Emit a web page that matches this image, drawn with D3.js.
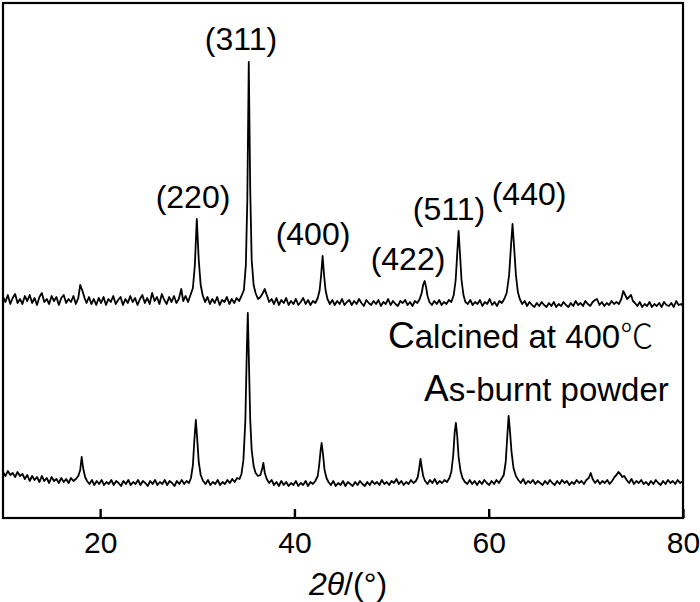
<!DOCTYPE html>
<html>
<head>
<meta charset="utf-8">
<script src="https://cdn.jsdelivr.net/npm/d3@7"></script>
<style>
  body { margin: 0; background: #fff; }
  text { font-family: "Liberation Sans", Arial, sans-serif; fill: #000; }
</style>
</head>
<body>
<svg id="chart" width="700" height="602"></svg>
<script>
// 2theta (deg) / intensity (a.u.)
const calcined = [
  [10.0, 6], [10.25, -4], [10.5, 10], [10.75, -8], [11.0, 4], [11.25, 12], [11.5, -6], [11.75, 2],
  [12.0, -8], [12.25, 8], [12.5, -2], [12.75, 10], [13.0, -6], [13.25, 4], [13.5, -10], [13.75, 6],
  [14.0, 14], [14.25, -4], [14.5, 2], [14.75, -8], [15.0, 8], [15.25, -2], [15.5, 6], [15.75, -10],
  [16.0, 4], [16.25, 10], [16.5, -6], [16.75, 2], [17.0, -4], [17.25, 8], [17.5, -8], [17.75, 4],
  [17.95, 30], [18.15, 20], [18.4, 4], [18.6, -6], [18.85, 6], [19.1, -8], [19.35, 2], [19.6, -10],
  [19.85, 4], [20.1, -6], [20.35, 6], [20.6, -10], [20.85, 2], [21.1, -4], [21.35, 8], [21.6, -8],
  [21.85, 0], [22.1, 6], [22.35, -10], [22.6, 2], [22.85, -6], [23.1, 8], [23.35, -4], [23.6, 4],
  [23.85, -10], [24.1, 2], [24.35, 10], [24.6, -6], [24.85, 4], [25.1, -8], [25.35, 14], [25.6, -2],
  [25.85, 6], [26.1, -8], [26.35, 12], [26.6, 0], [26.85, -8], [27.1, 6], [27.35, -4], [27.6, 8],
  [27.85, -6], [28.1, 2], [28.35, 22], [28.55, -2], [28.8, 8], [29.05, -4], [29.3, 10], [29.55, 24],
  [29.75, 70], [29.95, 162], [30.15, 80], [30.35, 30], [30.55, 10], [30.8, -4], [31.05, 6], [31.3, -8],
  [31.55, 2], [31.8, -6], [32.05, 6], [32.3, -10], [32.55, 0], [32.8, -4], [33.05, 6], [33.3, -8],
  [33.55, 2], [33.8, -6], [34.05, 4], [34.3, -2], [34.55, 8], [34.8, 20], [35.0, 70], [35.15, 200],
  [35.3, 476], [35.45, 220], [35.6, 80], [35.8, 30], [36.0, 14], [36.25, 2], [36.5, 6], [36.75, 14],
  [36.95, 22], [37.15, 10], [37.4, -4], [37.65, 2], [37.9, -8], [38.15, 4], [38.4, -10], [38.65, 0],
  [38.9, -6], [39.15, 4], [39.4, -10], [39.65, -2], [39.9, -8], [40.15, 2], [40.4, -10], [40.65, -4],
  [40.9, 4], [41.15, -8], [41.4, 0], [41.65, -10], [41.9, -2], [42.15, -6], [42.4, 4], [42.6, 20],
  [42.75, 50], [42.9, 88], [43.05, 50], [43.2, 20], [43.4, 2], [43.65, -8], [43.9, 0], [44.15, -10],
  [44.4, -2], [44.65, -8], [44.9, 2], [45.15, -10], [45.4, -4], [45.65, 0], [45.9, -10], [46.15, -2],
  [46.4, -8], [46.65, 2], [46.9, -6], [47.15, -12], [47.4, 0], [47.65, -6], [47.9, -10], [48.15, -2],
  [48.4, -8], [48.65, 0], [48.9, -12], [49.15, -4], [49.4, -8], [49.65, 2], [49.9, -10], [50.15, -2],
  [50.4, -8], [50.65, -12], [50.9, -2], [51.15, -6], [51.4, 0], [51.65, -10], [51.9, -4], [52.15, -12],
  [52.4, -2], [52.65, -6], [52.9, 2], [53.1, 14], [53.25, 30], [53.4, 38], [53.55, 26], [53.7, 8],
  [53.9, -4], [54.15, -10], [54.4, -2], [54.65, -8], [54.9, 0], [55.15, -10], [55.4, -4], [55.65, -8],
  [55.9, 0], [56.15, -4], [56.4, 10], [56.6, 40], [56.75, 90], [56.9, 138], [57.05, 90], [57.2, 40],
  [57.4, 10], [57.6, -4], [57.85, -8], [58.1, 0], [58.35, -10], [58.6, -4], [58.85, -8], [59.1, 0],
  [59.35, -12], [59.6, -4], [59.85, -8], [60.1, 2], [60.35, -10], [60.6, -4], [60.85, -12], [61.1, -2],
  [61.35, -6], [61.6, 2], [61.85, 14], [62.1, 50], [62.3, 110], [62.45, 152], [62.6, 110], [62.8, 50],
  [63.0, 16], [63.2, 2], [63.45, -8], [63.7, -2], [63.95, -12], [64.2, -4], [64.45, -10], [64.7, -14],
  [64.95, -6], [65.2, -12], [65.45, -4], [65.7, -10], [65.95, -14], [66.2, -6], [66.45, -12], [66.7, -4],
  [66.95, -14], [67.2, -8], [67.45, -12], [67.7, -4], [67.95, -10], [68.2, -14], [68.45, -6], [68.7, -12],
  [68.95, -2], [69.2, -10], [69.45, -6], [69.7, -12], [69.95, -2], [70.2, -8], [70.45, -12], [70.7, -4],
  [70.95, 0], [71.15, 2], [71.4, -10], [71.65, -4], [71.9, -12], [72.15, -6], [72.4, -10], [72.65, -2],
  [72.9, -8], [73.15, -4], [73.4, -8], [73.65, 2], [73.85, 18], [74.05, 10], [74.25, 2], [74.45, 6],
  [74.65, 10], [74.85, -2], [75.05, -6], [75.3, -12], [75.55, -4], [75.8, -14], [76.05, -8], [76.3, -12],
  [76.55, -4], [76.8, -14], [77.05, -8], [77.3, -12], [77.55, -6], [77.8, -14], [78.05, -4], [78.3, -10],
  [78.55, -12], [78.8, -6], [79.05, -14], [79.3, -2], [79.55, -10], [79.8, -8], [80.0, -12]
];

const asBurnt = [
  [10.0, 16], [10.25, 8], [10.5, 18], [10.75, 10], [11.0, 14], [11.25, 6], [11.5, 16], [11.75, 8],
  [12.0, 12], [12.25, 2], [12.5, 10], [12.75, -2], [13.0, 8], [13.25, 0], [13.5, 6], [13.75, -4],
  [14.0, 8], [14.25, -2], [14.5, 4], [14.75, -6], [15.0, 6], [15.25, -2], [15.5, 2], [15.75, -6],
  [16.0, 4], [16.25, -4], [16.5, 2], [16.75, -6], [17.0, 4], [17.25, -2], [17.5, 2], [17.75, 8],
  [17.95, 20], [18.1, 46], [18.25, 24], [18.45, 6], [18.65, -2], [18.9, -8], [19.15, 0], [19.4, -10],
  [19.65, -2], [19.9, -8], [20.15, 0], [20.4, -10], [20.65, -4], [20.9, -8], [21.15, 0], [21.4, -10],
  [21.65, -2], [21.9, -6], [22.15, -12], [22.4, -2], [22.65, -8], [22.9, 0], [23.15, -10], [23.4, -4],
  [23.65, -8], [23.9, 0], [24.15, -10], [24.4, -2], [24.65, -6], [24.9, -12], [25.15, -2], [25.4, -8],
  [25.65, 0], [25.9, -10], [26.15, -4], [26.4, -8], [26.65, 0], [26.9, -10], [27.15, -2], [27.4, -6],
  [27.65, -12], [27.9, -2], [28.15, -8], [28.4, 0], [28.65, -8], [28.9, -2], [29.15, -6], [29.35, 4],
  [29.55, 30], [29.7, 80], [29.85, 120], [30.0, 80], [30.15, 36], [30.35, 10], [30.6, -2], [30.85, -8],
  [31.1, 0], [31.35, -10], [31.6, -4], [31.85, -8], [32.1, 0], [32.35, -10], [32.6, -4], [32.85, -8],
  [33.1, 0], [33.35, -6], [33.6, 2], [33.85, -4], [34.1, 4], [34.35, 2], [34.55, 12], [34.75, 40],
  [34.95, 120], [35.1, 260], [35.2, 334], [35.3, 250], [35.45, 120], [35.6, 60], [35.8, 28], [36.0, 14],
  [36.25, 8], [36.5, 10], [36.7, 24], [36.8, 34], [36.95, 14], [37.15, 2], [37.4, -6], [37.65, 0],
  [37.9, -10], [38.15, -4], [38.4, -12], [38.65, -2], [38.9, -10], [39.15, -4], [39.4, -12], [39.65, -6],
  [39.9, -10], [40.15, -2], [40.4, -12], [40.65, -6], [40.9, -10], [41.15, -2], [41.4, -12], [41.65, -4],
  [41.9, -8], [42.15, -2], [42.4, 8], [42.55, 30], [42.7, 60], [42.8, 74], [42.95, 50], [43.1, 20],
  [43.3, 4], [43.5, -4], [43.75, -10], [44.0, -2], [44.25, -12], [44.5, -6], [44.75, -10], [45.0, -2],
  [45.25, -12], [45.5, -4], [45.75, -8], [46.0, -12], [46.25, -4], [46.5, -10], [46.75, -2], [47.0, -8],
  [47.25, -12], [47.5, -4], [47.75, -10], [48.0, -2], [48.25, -8], [48.5, -4], [48.75, -10], [49.0, 0],
  [49.25, -8], [49.5, -4], [49.75, -10], [50.0, -2], [50.25, -6], [50.5, 2], [50.75, -8], [51.0, -2],
  [51.25, -10], [51.5, -4], [51.75, -8], [52.0, 0], [52.25, -6], [52.5, -2], [52.7, 6], [52.85, 24],
  [52.98, 42], [53.1, 26], [53.25, 8], [53.45, -2], [53.7, -8], [53.95, 0], [54.2, -6], [54.45, 2],
  [54.7, -8], [54.95, -2], [55.2, -6], [55.45, 0], [55.7, -4], [55.95, 4], [56.15, 16], [56.35, 50],
  [56.5, 96], [56.62, 114], [56.75, 90], [56.9, 46], [57.1, 18], [57.3, 4], [57.55, -4], [57.8, -8],
  [58.05, 0], [58.3, -8], [58.55, -2], [58.8, -10], [59.05, -2], [59.3, -8], [59.55, 0], [59.8, -6],
  [60.05, -10], [60.3, -2], [60.55, -8], [60.8, 0], [61.05, -6], [61.3, 2], [61.55, 10], [61.75, 36],
  [61.92, 90], [62.05, 128], [62.18, 100], [62.35, 56], [62.55, 24], [62.8, 8], [63.05, 0], [63.3, -6],
  [63.55, 2], [63.8, -8], [64.05, -2], [64.3, -6], [64.55, 0], [64.8, -8], [65.05, -2], [65.3, -6],
  [65.55, -10], [65.8, -2], [66.05, -8], [66.3, 0], [66.55, -6], [66.8, -10], [67.05, -2], [67.3, -8],
  [67.55, 0], [67.8, -6], [68.05, -2], [68.3, -10], [68.55, -4], [68.8, -8], [69.05, 0], [69.3, -6],
  [69.55, -2], [69.8, -8], [70.05, 0], [70.3, 4], [70.5, 14], [70.7, 2], [70.95, -6], [71.2, 0],
  [71.45, -8], [71.7, -2], [71.95, -6], [72.2, 0], [72.45, -8], [72.7, -2], [72.95, 6], [73.15, 10],
  [73.35, 16], [73.55, 12], [73.75, 6], [73.95, 8], [74.2, 0], [74.45, -6], [74.7, 2], [74.95, -8],
  [75.2, -2], [75.45, -6], [75.7, 0], [75.95, -8], [76.2, -4], [76.45, -10], [76.7, -2], [76.95, -8],
  [77.2, 0], [77.45, -6], [77.7, -10], [77.95, -2], [78.2, -8], [78.45, 0], [78.7, -6], [78.95, -2],
  [79.2, -8], [79.45, 0], [79.7, -6], [80.0, -2]
];

// vertical shift of each pattern (a.u.)
const traceOffsets = [436, 76];
const sampleNames = ["Calcined at 400℃", "As-burnt powder"];
const sampleTheta = [49.63, 53.34];
const sampleHeight = [340, 234];

const hklLabels = ["(220)", "(311)", "(400)", "(422)", "(511)", "(440)"];
const hklTheta = [29.56, 34.5, 41.91, 51.69, 55.91, 64.15];
const hklHeight = [620, 936, 546, 496, 596, 626];

const xTicks = [20, 40, 60, 80];

let svg = d3.select("#chart");
let plotL = 3, plotR = 683, plotT = 3, plotB = 518;

let x = d3.scaleLinear().domain([10, 80]).range([plotL, plotR]);
let y = d3.scaleLinear().domain([0, 1030]).range([plotB, plotT]);

svg.append("defs")
  .append("clipPath")
  .attr("id", "plotclip")
  .append("rect")
  .attr("x", plotL)
  .attr("y", plotT)
  .attr("width", plotR - plotL)
  .attr("height", plotB - plotT);

function addTrace(data, offset) {
  let line = d3.line()
    .x(d => x(d[0]))
    .y(d => y(d[1] + offset));

  svg.append("path")
    .datum(data)
    .attr("clip-path", "url(#plotclip)")
    .attr("fill", "none")
    .attr("stroke", "#000")
    .attr("stroke-width", 1.8)
    .attr("stroke-linejoin", "round")
    .attr("d", line);
}

addTrace(calcined, traceOffsets[0]);
addTrace(asBurnt, traceOffsets[1]);

// frame
svg.append("rect")
  .attr("x", plotL)
  .attr("y", plotT)
  .attr("width", plotR - plotL)
  .attr("height", plotB - plotT)
  .attr("fill", "none")
  .attr("stroke", "#000")
  .attr("stroke-width", 2.2);

// bottom axis, ticks pointing inward
let xAxis = d3.axisBottom(x)
  .tickValues(xTicks)
  .tickFormat(d3.format("d"))
  .tickSizeInner(-9)
  .tickSizeOuter(0)
  .tickPadding(14);

let axis_g = svg.append("g")
  .attr("class", "axis")
  .attr("transform", "translate(0," + plotB + ")")
  .call(xAxis);

axis_g.select(".domain").remove();
axis_g.selectAll(".tick line")
  .attr("stroke", "#000")
  .attr("stroke-width", 2.4);
axis_g.selectAll(".tick text")
  .attr("fill", "#000")
  .style("font-family", "'Liberation Sans', Arial, sans-serif")
  .style("font-size", "30px");

// axis title 2θ/(°)
let title = svg.append("text")
  .attr("x", 348)
  .attr("y", 595)
  .attr("text-anchor", "middle")
  .style("font-size", "32px");
title.append("tspan").style("font-style", "italic").text("2θ");
title.append("tspan").text("/(°)");

// hkl labels
svg.selectAll(".hkl")
  .data(hklLabels)
  .enter()
  .append("text")
  .attr("class", "hkl")
  .attr("x", (d, i) => x(hklTheta[i]))
  .attr("y", (d, i) => y(hklHeight[i]))
  .attr("text-anchor", "middle")
  .style("font-size", "32px")
  .text(d => d);

// sample names, first letter set larger
sampleNames.forEach(function (name, i) {
  let t = svg.append("text")
    .attr("x", x(sampleTheta[i]))
    .attr("y", y(sampleHeight[i]))
    .style("font-size", "33px");
  t.append("tspan").style("font-size", "37px").text(name.charAt(0));
  let rest = name.slice(1);
  if (rest.endsWith("℃")) {
    t.append("tspan").text(rest.slice(0, -1));
    t.append("tspan")
      .style("font-family", "'Noto Sans CJK SC', 'DejaVu Sans', sans-serif")
      .style("font-weight", "300")
      .text("℃");
  } else {
    t.append("tspan").text(rest);
  }
});
</script>
</body>
</html>
